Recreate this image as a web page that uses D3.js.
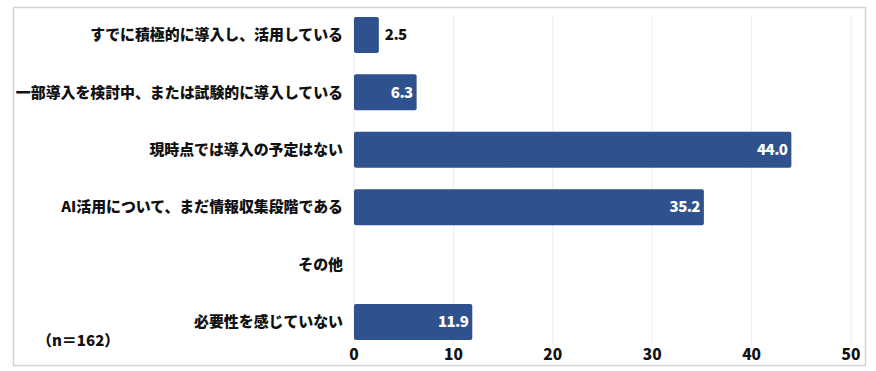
<!DOCTYPE html>
<html>
<head>
<meta charset="utf-8">
<script src="https://cdn.jsdelivr.net/npm/d3@7"></script>
<style>
body{margin:0;background:#fff;}
text{font-family:"Noto Sans CJK JP","Noto Sans",sans-serif;font-weight:900;}
</style>
</head>
<body>
<div id="chart"></div>
<script>
const categories = ["すでに積極的に導入し、活用している","一部導入を検討中、または試験的に導入している","現時点では導入の予定はない","AI活用について、まだ情報収集段階である","その他","必要性を感じていない"];
const values = [2.5, 6.3, 44.0, 35.2, 0, 11.9];
const ticks = [0, 10, 20, 30, 40, 50];
const note = "（n＝162）";

const width = 876, height = 371;

let svg = d3.select("#chart").append("svg")
    .attr("width", width)
    .attr("height", height);

// frame
svg.append("rect")
    .attr("x", 13.5).attr("y", 7.5)
    .attr("width", 852).attr("height", 358)
    .style("fill", "white")
    .style("stroke", "#d4d4d4")
    .style("stroke-width", "1.5px");

const x = d3.scaleLinear().domain([0, 50]).range([354, 851]);
const y = d3.scaleBand().domain(categories).range([6, 351])
    .paddingInner(0.373).paddingOuter(0.19);

// gridlines
svg.append("g").selectAll("line")
    .data(ticks)
    .enter().append("line")
    .attr("x1", d => x(d)).attr("x2", d => x(d))
    .attr("y1", 15).attr("y2", 345)
    .style("stroke", "#ececec")
    .style("stroke-width", "1px");

// bars
svg.append("g").selectAll("rect")
    .data(values.map((v, i) => ({v: v, c: categories[i]})).filter(d => d.v > 0))
    .enter().append("rect")
    .attr("x", x(0))
    .attr("y", d => y(d.c))
    .attr("width", d => x(d.v) - x(0))
    .attr("height", y.bandwidth())
    .attr("rx", 2)
    .style("fill", "#2f528f");

// category labels
svg.append("g").selectAll("text")
    .data(categories)
    .enter().append("text")
    .attr("x", 343)
    .attr("y", d => y(d) + y.bandwidth() / 2)
    .attr("dy", "0.35em")
    .attr("text-anchor", "end")
    .style("font-size", "14.9px")
    .style("fill", "#111")
    .text(d => d);

// value labels
svg.append("g").selectAll("text")
    .data(values.map((v, i) => ({v: v, c: categories[i]})).filter(d => d.v > 0))
    .enter().append("text")
    .attr("x", d => d.v < 4 ? x(d.v) + 6 : x(d.v) - 4)
    .attr("y", d => y(d.c) + y.bandwidth() / 2)
    .attr("dy", "0.35em")
    .attr("text-anchor", d => d.v < 4 ? "start" : "end")
    .style("font-size", "15px")
    .style("letter-spacing", "-0.6px")
    .style("fill", d => d.v < 4 ? "#111" : "white")
    .text(d => d.v.toFixed(1));

// x axis labels
svg.append("g").selectAll("text")
    .data(ticks)
    .enter().append("text")
    .attr("x", d => x(d))
    .attr("y", 355)
    .attr("dy", "0.35em")
    .attr("text-anchor", "middle")
    .style("font-size", "15.5px")
    .style("fill", "#111")
    .text(d => d);

svg.append("text")
    .attr("x", 37).attr("y", 341)
    .attr("dy", "0.35em")
    .style("font-size", "15px")
    .style("fill", "#111")
    .text(note);
</script>
</body>
</html>
